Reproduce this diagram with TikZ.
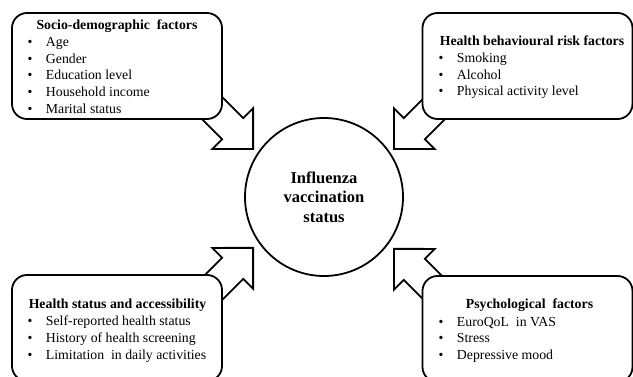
\documentclass[tikz,border=0pt]{standalone}
\usepackage{fontspec}
\setmainfont{Liberation Serif}
\usetikzlibrary{shapes.arrows}

\begin{document}
\begin{tikzpicture}[
    x=1pt, y=1pt,
    factor/.style={rectangle, draw, rounded corners=15pt, line width=1.8pt, fill=white, minimum width=210pt, minimum height=106pt, inner sep=0pt},
    outcome/.style={circle, draw, line width=1.8pt, fill=white, minimum size=158pt, inner sep=0pt, align=center, font=\fontsize{16.5}{19.5}\selectfont\bfseries},
    blockarrow/.style={single arrow, draw, line width=1.8pt, fill=white, single arrow head extend=14pt, single arrow tip angle=90, minimum width=56pt, minimum height=80pt, inner xsep=0pt, inner ysep=14pt, anchor=tip},
    heading/.style={anchor=base, inner sep=0pt, font=\fontsize{13.8}{16.6}\selectfont\bfseries},
    items/.style={anchor=base west, inner sep=0pt, font=\fontsize{13.8}{16.6}\selectfont}
]
\useasboundingbox (0,0) rectangle (633,-377);
\clip (0,0) rectangle (633,-377);

% Block arrows (tails hidden under the boxes)
\node[blockarrow, rotate=-45] (socioarrow) at (254,-150) {};
\node[blockarrow, rotate=-135] (behavarrow) at (393,-150) {};
\node[blockarrow, rotate=45] (statusarrow) at (254,-247) {};
\node[blockarrow, rotate=135] (psychoarrow) at (393,-248) {};

% Factor boxes
\node[factor] (socio) at (117,-66) {};
\node[factor] (behav) at (527.5,-66) {};
\node[factor] (status) at (117,-328) {};
\node[factor] (psycho) at (527.5,-329) {};

% Outcome
\node[outcome] (vacc) at (324,-197) {Influenza\\vaccination\\status};

% Box texts
\node[heading] (sociotitle) at (117,-30) {Socio-demographic\ \ factors};
\node[items] (socioitems) at (27.5,-46.7) {\begin{tabular}[t]{@{}l@{\hspace{13.4pt}}l@{}}
\textbullet & Age\\
\textbullet & Gender\\
\textbullet & Education level\\
\textbullet & Household income\\
\textbullet & Marital status
\end{tabular}};

\node[heading] (behavtitle) at (532,-46) {Health behavioural risk factors};
\node[items] (behavitems) at (438.5,-62.7) {\begin{tabular}[t]{@{}l@{\hspace{13.4pt}}l@{}}
\textbullet & Smoking\\
\textbullet & Alcohol\\
\textbullet & Physical activity level
\end{tabular}};

\node[heading] (statustitle) at (117.5,-308.7) {Health status and accessibility};
\node[items] (statusitems) at (27.5,-326) {\begin{tabular}[t]{@{}l@{\hspace{13.4pt}}l@{}}
\textbullet & Self-reported health status\\
\textbullet & History of health screening\\
\textbullet & Limitation\ \ in daily activities
\end{tabular}};

\node[heading] (psychotitle) at (529.5,-308.7) {Psychological\ \ factors};
\node[items] (psychoitems) at (438.5,-326.3) {\begin{tabular}[t]{@{}l@{\hspace{13.4pt}}l@{}}
\textbullet & EuroQoL\ \ in VAS\\
\textbullet & Stress\\
\textbullet & Depressive mood
\end{tabular}};

\end{tikzpicture}
\end{document}
